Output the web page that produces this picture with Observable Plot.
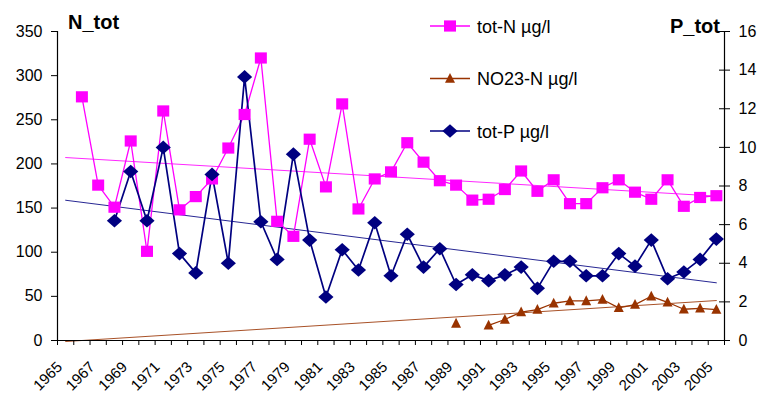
<!DOCTYPE html>
<html>
<head>
<meta charset="utf-8">
<script src="https://cdn.jsdelivr.net/npm/d3@7"></script>
<script src="https://cdn.jsdelivr.net/npm/@observablehq/plot@0.6"></script>
<style>
  body { margin: 0; background: #fff; }
  #chart { width: 759px; height: 397px; }
</style>
</head>
<body>
<div id="chart"></div>
<script>
// Sampling years (one value per year)
const years = [1966, 1967, 1968, 1969, 1970, 1971, 1972, 1973, 1974, 1975,
               1976, 1977, 1978, 1979, 1980, 1981, 1982, 1983, 1984, 1985,
               1986, 1987, 1988, 1989, 1990, 1991, 1992, 1993, 1994, 1995,
               1996, 1997, 1998, 1999, 2000, 2001, 2002, 2003, 2004, 2005];

// tot-N µg/l (left axis)
const totN = [276, 176, 151, 226, 101, 260, 148, 163, 183, 218,
              256, 320, 135, 118, 228, 174, 268, 149, 183, 191,
              224, 202, 181, 176, 159, 160, 171, 192, 169, 182,
              155, 155, 173, 182, 168, 160, 182, 152, 162, 164];

// NO23-N µg/l (left axis); null = not measured
const no23N = [null, null, null, null, null, null, null, null, null, null,
               null, null, null, null, null, null, null, null, null, null,
               null, null, null, 19.3, null, 17.1, 23.8, 32.2, 35.0, 42.2,
               44.8, 44.8, 46.4, 37.0, 40.7, 50.1, 43.3, 35.4, 36.5, 35.0];

// tot-P µg/l (right axis); null = not measured
const totP = [null, null, 6.2, 8.75, 6.2, 10.0, 4.5, 3.5, 8.6, 4.0,
              13.65, 6.15, 4.2, 9.65, 5.2, 2.25, 4.7, 3.65, 6.1, 3.35,
              5.5, 3.8, 4.75, 2.9, 3.4, 3.1, 3.4, 3.8, 2.7, 4.1,
              4.1, 3.35, 3.35, 4.5, 3.85, 5.2, 3.2, 3.55, 4.2, 5.25];

// Axis ticks and labels
const nTicks = [0, 50, 100, 150, 200, 250, 300, 350];
const pTicks = [0, 2, 4, 6, 8, 10, 12, 14, 16];
const yearLabels = [1965, 1967, 1969, 1971, 1973, 1975, 1977, 1979, 1981, 1983, 1985,
                    1987, 1989, 1991, 1993, 1995, 1997, 1999, 2001, 2003, 2005];
const firstYear = 1965, lastYear = 2005;
const nMax = 350, pMax = 16;

const legendItems = [
  {label: "tot-N µg/l", color: "#FF00FF", symbol: "square"},
  {label: "NO23-N µg/l", color: "#993300", symbol: "triangle"},
  {label: "tot-P µg/l", color: "#000080", symbol: "diamond"}
];

// Right-axis values are drawn on the left-axis scale
const k = nMax / pMax;

const rows = (vals, f = 1) => years.map((year, i) => ({
  year, v: vals[i] == null ? NaN : vals[i] * f
}));
const dataN = rows(totN);
const dataNO = rows(no23N);
const dataP = rows(totP, k);

// Least-squares trend, drawn across the whole category range
function trend(data) {
  const pts = data.filter(d => !isNaN(d.v));
  const mx = d3.mean(pts, d => d.year), my = d3.mean(pts, d => d.v);
  const sxy = d3.sum(pts, d => (d.year - mx) * (d.v - my));
  const sxx = d3.sum(pts, d => (d.year - mx) ** 2);
  const b = sxy / sxx, a = my - b * mx;
  return [firstYear, lastYear].map(year => ({year, v: a + b * year}));
}

// Marker shapes
const shapes = {
  square: {draw(c) { c.moveTo(-6, -5.6); c.lineTo(6, -5.6); c.lineTo(6, 5.6); c.lineTo(-6, 5.6); c.closePath(); }},
  diamond: {draw(c) { c.moveTo(0, -6.8); c.lineTo(7.6, 0); c.lineTo(0, 6.8); c.lineTo(-7.6, 0); c.closePath(); }},
  triangle: {draw(c) { c.moveTo(0, -5.6); c.lineTo(5, 4.2); c.lineTo(-5, 4.2); c.closePath(); }}
};

const series = [
  {data: dataN, color: "#FF00FF", shape: shapes.square, w: 1.3},
  {data: dataNO, color: "#993300", shape: shapes.triangle, w: 1.3},
  {data: dataP, color: "#000080", shape: shapes.diamond, w: 1.7}
];

const boundaries = d3.range(firstYear - 0.5, lastYear + 1, 1);

const chart = Plot.plot({
  width: 759,
  height: 397,
  marginLeft: 57,
  marginRight: 35,
  marginTop: 31,
  marginBottom: 57,
  style: {fontFamily: "'Liberation Sans', Arial, sans-serif", fontSize: "16px", color: "#000", background: "#fff"},
  x: {domain: [firstYear - 0.5, lastYear + 0.5]},
  y: {domain: [0, nMax]},
  marks: [
    // trend lines
    ...series.map(s => Plot.line(trend(s.data), {x: "year", y: "v", stroke: s.color, strokeWidth: 1, strokeOpacity: 0.85})),
    // series lines and markers
    ...series.map(s => Plot.line(s.data, {x: "year", y: "v", stroke: s.color, strokeWidth: s.w})),
    ...series.map(s => Plot.dot(s.data.filter(d => !isNaN(d.v)), {x: "year", y: "v", symbol: s.shape, fill: s.color, stroke: "none"})),
    // axis lines
    Plot.ruleX([firstYear - 0.5, lastYear + 0.5], {stroke: "#000", strokeWidth: 1.2}),
    Plot.ruleY([0], {stroke: "#000", strokeWidth: 1.2}),
    // left axis
    Plot.axisY(nTicks, {anchor: "left", tickSize: 6, tickPadding: 9, label: null, fontSize: 16}),
    // right axis (tot-P units)
    Plot.axisY(pTicks.map(p => p * k), {anchor: "right", tickSize: 5, tickPadding: 9, label: null, fontSize: 16,
      tickFormat: d => String(Math.round(d / k))}),
    Plot.axisY(pTicks.map(p => p * k), {anchor: "right", tickSize: -6, label: null, tickFormat: () => ""}),
    // category ticks and year labels
    Plot.axisX(boundaries, {tickSize: 5, label: null, tickFormat: () => ""}),
    Plot.axisX(yearLabels, {tickSize: 0, tickRotate: -45, tickPadding: 24, dx: -6, label: null, fontSize: 15,
      tickFormat: d => String(d)})
  ]
});

// Axis titles and legend
const svg = d3.select(chart);
svg.append("text").attr("x", 68).attr("y", 29).attr("text-anchor", "start")
  .attr("font-weight", "bold").attr("font-size", 20).text("N_tot");
svg.append("text").attr("x", 720).attr("y", 33).attr("text-anchor", "end")
  .attr("font-weight", "bold").attr("font-size", 20).text("P_tot");

const legend = svg.append("g").attr("transform", "translate(430,26)");
legendItems.forEach((item, i) => {
  const g = legend.append("g").attr("transform", `translate(0,${i * 52.5})`);
  g.append("line").attr("x1", 0).attr("x2", 40).attr("stroke", item.color).attr("stroke-width", 1.5);
  g.append("path").attr("transform", "translate(20,0)").attr("fill", item.color).attr("d", () => {
    const p = d3.path(); shapes[item.symbol].draw(p); return p.toString();
  });
  g.append("text").attr("x", 47).attr("y", 6.5).attr("text-anchor", "start")
    .attr("font-size", 18).text(item.label);
});

document.getElementById("chart").appendChild(chart);
</script>
</body>
</html>
